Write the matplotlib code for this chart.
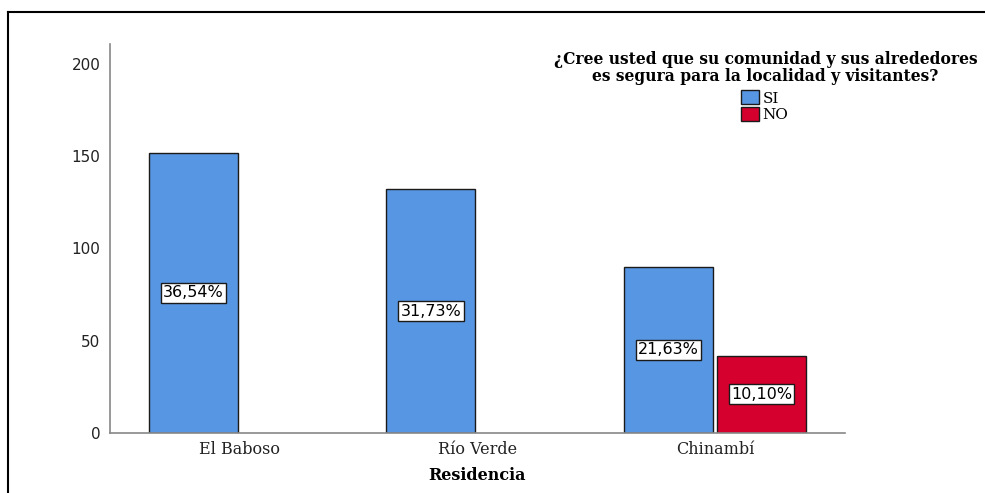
import matplotlib.pyplot as plt
import numpy as np
from matplotlib.lines import Line2D
from matplotlib.patches import Patch

categories = ["El Baboso", "Río Verde", "Chinambí"]
si_counts = [152, 132, 90]
no_counts = [0, 0, 42]
si_pct = ["36,54%", "31,73%", "21,63%"]
no_pct = ["", "", "10,10%"]
yticks = [0, 50, 100, 150, 200]

blue = '#5796e3'
red = '#d5002d'

fig = plt.figure(figsize=(9.85, 4.93), dpi=100)
ax = fig.add_axes([0.1117, 0.1217, 0.746, 0.789])

x = np.arange(len(categories))
w = 0.375
off = 0.196
box = dict(boxstyle='square,pad=0.15', fc='white', ec='#1a1a1a', lw=1)

for i in range(len(categories)):
    xs = x[i] - off
    ax.bar(xs, si_counts[i], width=w, color=blue, edgecolor='#1a1a1a', linewidth=1)
    ax.text(xs, si_counts[i] / 2, si_pct[i], ha='center', va='center', fontsize=11.5,
            family='DejaVu Sans', bbox=box)
    if no_counts[i] > 0:
        xn = x[i] + off
        ax.bar(xn, no_counts[i], width=w, color=red, edgecolor='#1a1a1a', linewidth=1)
        ax.text(xn, no_counts[i] / 2, no_pct[i], ha='center', va='center', fontsize=11.5,
                family='DejaVu Sans', bbox=box)

ax.set_xlim(-0.547, 2.547)
ax.set_ylim(0, 210.8)
ax.set_yticks(yticks)
ax.set_yticklabels([str(t) for t in yticks], fontsize=11, family='DejaVu Sans', color='#222222')
ax.set_xticks(x)
ax.set_xticklabels(categories, fontsize=11.5, family='DejaVu Serif', color='#222222')
ax.tick_params(length=0)
ax.tick_params(axis='y', pad=7)
ax.tick_params(axis='x', pad=6)
ax.set_xlabel("Residencia", fontsize=11.5, family='DejaVu Serif', fontweight='bold', labelpad=6)

for s in ['top', 'right']:
    ax.spines[s].set_visible(False)
for s in ['left', 'bottom']:
    ax.spines[s].set_color('#888888')
    ax.spines[s].set_linewidth(1.2)

fig.text(0.777, 0.862, "¿Cree usted que su comunidad y sus alrededores\nes segura para la localidad y visitantes?",
         ha='center', va='center', fontsize=11.2, family='DejaVu Serif', fontweight='bold',
         linespacing=0.95)

handles = [Patch(facecolor=blue, edgecolor='#1a1a1a', label='SI'),
           Patch(facecolor=red, edgecolor='#1a1a1a', label='NO')]
fig.legend(handles=handles, loc='upper left', bbox_to_anchor=(0.7445, 0.832), frameon=False,
           prop={'family': 'DejaVu Serif', 'size': 11}, handlelength=1.2, handleheight=1.0,
           handletextpad=0.2, labelspacing=0.1, borderpad=0)

# outer frame, only top and left edges are visible in the crop
fig.add_artist(Line2D([8 / 985, 1.0], [1 - 12 / 493, 1 - 12 / 493], transform=fig.transFigure,
                      color='black', lw=1.5))
fig.add_artist(Line2D([8 / 985, 8 / 985], [1 - 12 / 493, 0.0], transform=fig.transFigure,
                      color='black', lw=1.5))

fig.savefig('out.png', dpi=100)
